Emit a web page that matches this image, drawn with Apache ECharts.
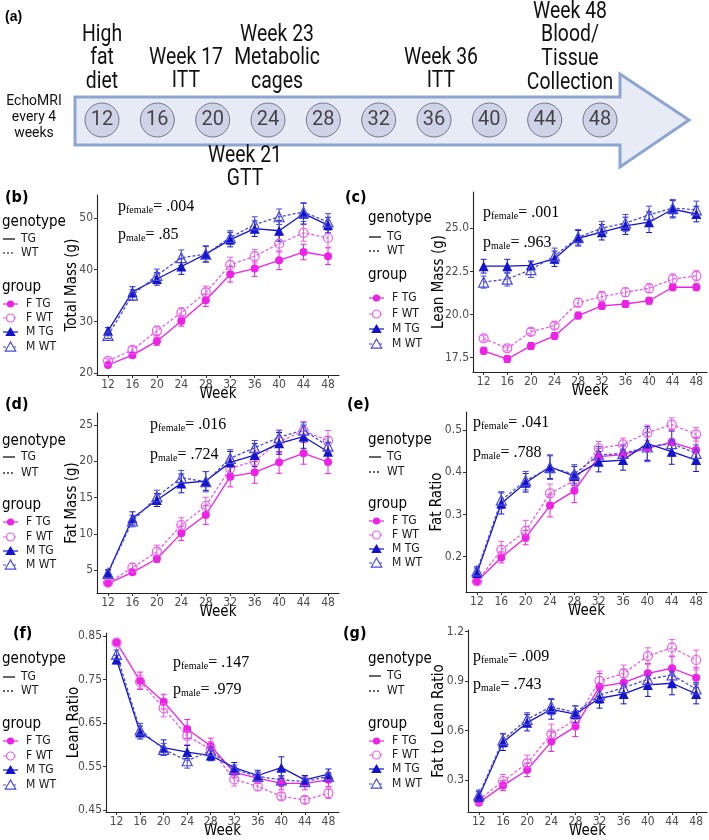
<!DOCTYPE html>
<html><head><meta charset="utf-8">
<script src="https://cdn.jsdelivr.net/npm/echarts@6/dist/echarts.min.js"></script>
<style>html,body{margin:0;padding:0;background:#fff}#c{width:709px;height:840px}</style>
</head><body><div id="c"></div>
<script>
// ---------------- DATA ----------------
const weeks = [12,16,20,24,28,32,36,40,44,48];
const groupNames = ['F TG','F WT','M TG','M WT'];
const genotypeNames = ['TG','WT'];

// (b) Total Mass (g)
const totalFTG = [21.6,23.5,26.2,30.1,34.1,39.1,40.2,41.8,43.4,42.6];
const totalFWT = [22.4,24.5,28.2,31.7,35.6,40.9,42.6,45.0,47.1,46.1];
const totalMTG = [28.2,35.7,38.2,40.6,43.0,45.8,47.9,47.5,50.8,48.6];
const totalMWT = [27.3,35.1,38.9,42.3,43.0,46.2,48.7,50.2,51.1,49.2];
const totalFTGse = [0.4,0.5,0.8,1.0,1.2,1.5,1.5,1.8,1.5,1.6];
const totalFWTse = [0.4,0.6,0.9,0.9,1.2,1.5,1.3,1.6,1.6,1.8];
const totalMTGse = [0.6,1.0,1.2,1.5,1.5,1.4,1.5,2.0,2.0,1.5];
const totalMWTse = [0.6,1.0,1.2,1.5,1.6,1.3,1.5,1.5,1.8,1.6];
const totalTicks = [20,30,40,50];

// (c) Lean Mass (g)
const leanFTG = [17.9,17.42,18.18,18.76,19.94,20.5,20.61,20.8,21.58,21.58];
const leanFWT = [18.62,18.04,19.0,19.36,20.69,21.04,21.29,21.52,22.05,22.24];
const leanMTG = [22.8,22.8,22.85,23.23,24.42,24.77,25.14,25.35,26.1,25.82];
const leanMWT = [21.88,22.05,22.6,23.4,24.48,25.0,25.3,25.78,26.17,26.07];
const leanFTGse = [0.2,0.2,0.2,0.2,0.2,0.2,0.2,0.2,0.2,0.2];
const leanFWTse = [0.15,0.15,0.2,0.2,0.25,0.3,0.25,0.25,0.3,0.3];
const leanMTGse = [0.4,0.4,0.25,0.45,0.45,0.45,0.5,0.6,0.5,0.45];
const leanMWTse = [0.35,0.4,0.45,0.45,0.45,0.4,0.5,0.5,0.5,0.5];
const leanTicks = [17.5,20,22.5,25];

// (d) Fat Mass (g)
const fatFTG = [3.16,4.68,6.56,10.06,12.59,17.87,18.47,19.85,21.1,19.9];
const fatFWT = [3.25,5.32,7.53,11.2,13.83,19.02,20.03,22.7,24.2,22.84];
const fatMTG = [4.63,12.13,14.66,16.95,17.28,19.85,20.86,22.47,23.39,21.32];
const fatMWT = [4.54,11.76,15.11,17.74,17.18,20.4,21.87,23.3,24.31,22.1];
const fatFTGse = [0.2,0.3,0.5,1.0,1.3,1.4,1.5,1.5,1.5,1.6];
const fatFWTse = [0.2,0.6,0.9,1.0,1.2,1.3,1.4,1.5,1.3,1.4];
const fatMTGse = [0.4,0.9,0.9,1.3,1.3,1.5,1.6,1.5,1.6,1.3];
const fatMWTse = [0.4,0.8,0.9,1.0,1.4,1.2,1.0,1.0,1.0,1.3];
const fatTicks = [5,10,15,20,25];

// (e) Fat Ratio
const fatRatioFTG = [0.141,0.198,0.245,0.321,0.356,0.437,0.442,0.457,0.471,0.453];
const fatRatioFWT = [0.141,0.216,0.261,0.35,0.38,0.457,0.466,0.494,0.513,0.49];
const fatRatioMTG = [0.161,0.326,0.375,0.413,0.391,0.425,0.429,0.468,0.449,0.429];
const fatRatioMWT = [0.166,0.334,0.38,0.411,0.396,0.441,0.445,0.46,0.468,0.445];
const fatRatioFTGse = [0.005,0.013,0.017,0.027,0.028,0.02,0.02,0.028,0.03,0.03];
const fatRatioFWTse = [0.005,0.02,0.025,0.022,0.02,0.016,0.015,0.018,0.016,0.016];
const fatRatioMTGse = [0.012,0.025,0.022,0.028,0.023,0.024,0.024,0.04,0.03,0.027];
const fatRatioMWTse = [0.01,0.02,0.022,0.028,0.022,0.02,0.02,0.035,0.03,0.02];
const fatRatioTicks = [0.2,0.3,0.4,0.5];

// (f) Lean Ratio
const leanRatioFTG = [0.835,0.747,0.699,0.636,0.597,0.536,0.523,0.511,0.511,0.519];
const leanRatioFWT = [0.835,0.745,0.684,0.62,0.589,0.52,0.504,0.481,0.473,0.488];
const leanRatioMTG = [0.796,0.628,0.593,0.583,0.575,0.547,0.529,0.547,0.519,0.532];
const leanRatioMWT = [0.808,0.634,0.589,0.563,0.586,0.543,0.527,0.519,0.515,0.527];
const leanRatioFTGse = [0.004,0.02,0.017,0.022,0.018,0.012,0.012,0.015,0.015,0.015];
const leanRatioFWTse = [0.004,0.015,0.02,0.02,0.018,0.015,0.01,0.008,0.008,0.012];
const leanRatioMTGse = [0.01,0.015,0.018,0.015,0.012,0.012,0.012,0.025,0.01,0.012];
const leanRatioMWTse = [0.01,0.015,0.014,0.017,0.012,0.01,0.01,0.01,0.008,0.008];
const leanRatioTicks = [0.45,0.55,0.65,0.75,0.85];

// (g) Fat to Lean Ratio
const ftlFTG = [0.162,0.266,0.361,0.533,0.624,0.866,0.891,0.947,0.978,0.921];
const ftlFWT = [0.179,0.294,0.401,0.579,0.664,0.901,0.947,1.052,1.103,1.028];
const ftlMTG = [0.199,0.529,0.648,0.729,0.70,0.796,0.822,0.877,0.887,0.822];
const ftlMWT = [0.209,0.543,0.668,0.745,0.709,0.816,0.86,0.911,0.937,0.852];
const ftlFTGse = [0.015,0.03,0.04,0.06,0.06,0.08,0.08,0.06,0.07,0.06];
const ftlFWTse = [0.015,0.04,0.05,0.06,0.05,0.06,0.05,0.05,0.05,0.06];
const ftlMTGse = [0.03,0.05,0.05,0.06,0.05,0.06,0.06,0.07,0.07,0.06];
const ftlMWTse = [0.03,0.04,0.04,0.05,0.04,0.05,0.04,0.05,0.05,0.04];
const ftlTicks = [0.3,0.6,0.9,1.2];

const pFemale = ['.004','.001','.016','.041','.147','.009'];
const pMale = ['.85','.963','.724','.788','.979','.743'];

// timeline (a)
const timelineWeeks = [12,16,20,24,28,32,36,40,44,48];
const timelineNotes = [['High','fat','diet'],['Week 17','ITT'],['Week 23','Metabolic','cages'],['Week 36','ITT'],['Week 48','Blood/','Tissue','Collection'],['Week 21','GTT']];
const echoNote = ['EchoMRI','every 4','weeks'];

// ---------------- STYLE / LAYOUT ----------------
const SANS = "'Liberation Sans Narrow','DejaVu Sans Condensed','Liberation Sans',Arial,sans-serif";
const SERIF = "'Liberation Serif','Times New Roman',serif";
const ROBOTO = "Roboto,'Noto Sans',sans-serif";
const groupStyles = [
  {color:'#EE22E6', symbol:'circle',   size:8,  filled:true,  dash:'solid'},
  {color:'#EA5CEA', symbol:'circle',   size:9,  filled:false, dash:[3,2]},
  {color:'#1414CC', symbol:'triangle', size:10, filled:true,  dash:'solid'},
  {color:'#4848DA', symbol:'triangle', size:10, filled:false, dash:[3,2]}
];

const panels = [
  {label:'(b)', yName:'Total Mass (g)', vals:[totalFTG,totalFWT,totalMTG,totalMWT], se:[totalFTGse,totalFWTse,totalMTGse,totalMWTse], ticks:totalTicks, dec:0,
   grid:{left:97,top:195,width:242,height:180}, yr:[19.67,54.4], yGap:17, lab:[5,198], p:[118,207,235], leg:[2,[222,239,253,287,304,318,332,347]]},
  {label:'(c)', yName:'Lean Mass (g)', vals:[leanFTG,leanFWT,leanMTG,leanMWT], se:[leanFTGse,leanFWTse,leanMTGse,leanMWTse], ticks:leanTicks, dec:1,
   grid:{left:473,top:192,width:234,height:180}, yr:[16.67,27.1], yGap:26, lab:[345,198], p:[483,213,243], leg:[368,[218,237,251,275,298,314,329,344]]},
  {label:'(d)', yName:'Fat Mass (g)', vals:[fatFTG,fatFWT,fatMTG,fatMWT], se:[fatFTGse,fatFWTse,fatMTGse,fatMWTse], ticks:fatTicks, dec:0,
   grid:{left:97,top:413,width:242,height:180}, yr:[1.83,26.66], yGap:17, lab:[5,405], p:[150,425,455], leg:[2,[441,457,473,505,522,537,551,565]]},
  {label:'(e)', yName:'Fat Ratio', vals:[fatRatioFTG,fatRatioFWT,fatRatioMTG,fatRatioMWT], se:[fatRatioFTGse,fatRatioFWTse,fatRatioMTGse,fatRatioMWTse], ticks:fatRatioTicks, dec:1,
   grid:{left:466,top:412,width:241,height:180}, yr:[0.116,0.543], yGap:21, lab:[347,405], p:[473,423,453], leg:[368,[440,457,472,504,521,535,549,563]]},
  {label:'(f)', yName:'Lean Ratio', vals:[leanRatioFTG,leanRatioFWT,leanRatioMTG,leanRatioMWT], se:[leanRatioFTGse,leanRatioFWTse,leanRatioMTGse,leanRatioMWTse], ticks:leanRatioTicks, dec:2,
   grid:{left:106,top:633,width:233,height:179}, yr:[0.445,0.857], yGap:24, lab:[13,634], p:[173,663,690], leg:[2,[659,677,691,724,741,756,770,785]]},
  {label:'(g)', yName:'Fat to Lean Ratio', vals:[ftlFTG,ftlFWT,ftlMTG,ftlMWT], se:[ftlFTGse,ftlFWTse,ftlMTGse,ftlMWTse], ticks:ftlTicks, dec:1,
   grid:{left:468,top:630,width:239,height:182}, yr:[0.106,1.21], yGap:21, lab:[343,634], p:[473,657,685], leg:[368,[659,676,691,724,741,755,769,784]]}
];

const grids = [], xAxes = [], yAxes = [], series = [], graphics = [];

function T(x, y, text, size, extra, tf) {
  return Object.assign({type:'text', x:x, y:y, silent:true, z:20,
    style:Object.assign({text:text, fontFamily:SANS, fontSize:size, fill:'#000', textAlign:'left', textVerticalAlign:'middle'}, extra||{})}, tf||{});
}
function tri(cx, cy, s) {
  return [[cx, cy - s*0.55],[cx - s*0.58, cy + s*0.45],[cx + s*0.58, cy + s*0.45]];
}

panels.forEach((P, i) => {
  grids.push(Object.assign({outerBoundsMode:'none', containLabel:false}, P.grid));
  xAxes.push({type:'value', gridIndex:i, min:10.2, max:49.8,
    name:'Week', nameLocation:'middle', nameGap:12, nameMoveOverlap:false,
    nameTextStyle:{fontFamily:SANS, fontSize:15, color:'#000'},
    axisLine:{show:true, onZero:false, lineStyle:{color:'#222', width:1.1}},
    axisTick:{show:true, length:3, customValues:weeks, lineStyle:{color:'#333'}},
    axisLabel:{customValues:weeks, margin:4, fontFamily:SANS, fontSize:12, color:'#4D4D4D'},
    splitLine:{show:false}});
  yAxes.push({type:'value', gridIndex:i, min:P.yr[0], max:P.yr[1],
    name:P.yName, nameLocation:'middle', nameGap:P.yGap, nameMoveOverlap:false,
    nameTextStyle:{fontFamily:SANS, fontSize:15, color:'#000'},
    axisLine:{show:true, onZero:false, lineStyle:{color:'#222', width:1.1}},
    axisTick:{show:true, length:3, customValues:P.ticks, lineStyle:{color:'#333'}},
    axisLabel:{customValues:P.ticks, margin:4, fontFamily:SANS, fontSize:12, color:'#4D4D4D',
      formatter:(v)=>Number(v).toFixed(P.dec)},
    splitLine:{show:false}});

  P.vals.forEach((vals, g) => {
    const st = groupStyles[g];
    const se = P.se[g];
    series.push({type:'custom', xAxisIndex:i, yAxisIndex:i, z:2, silent:true, animation:false,
      data: weeks.map((w,k)=>[w, vals[k]-se[k], vals[k]+se[k]]),
      encode:{x:0, y:[1,2]},
      renderItem:(params, api) => {
        const x = api.value(0);
        const a = api.coord([x, api.value(1)]);
        const b = api.coord([x, api.value(2)]);
        const w = 3;
        const ls = {stroke:st.color, lineWidth:1};
        return {type:'group', children:[
          {type:'line', shape:{x1:a[0], y1:a[1], x2:b[0], y2:b[1]}, style:ls},
          {type:'line', shape:{x1:a[0]-w, y1:a[1], x2:a[0]+w, y2:a[1]}, style:ls},
          {type:'line', shape:{x1:b[0]-w, y1:b[1], x2:b[0]+w, y2:b[1]}, style:ls}
        ]};
      }});
    series.push({type:'line', name:groupNames[g], xAxisIndex:i, yAxisIndex:i, z:3, silent:true, animation:false,
      data: weeks.map((w,k)=>[w, vals[k]]),
      symbol:st.symbol, symbolSize:st.size, showAllSymbol:true,
      lineStyle:{color:st.color, width:1.3, type:st.dash},
      itemStyle: st.filled ? {color:st.color} : {color:'rgba(255,255,255,0)', borderColor:st.color, borderWidth:1.2},
      emphasis:{disabled:true}});
  });

  graphics.push(T(P.lab[0], P.lab[1], P.label, 16, {fontWeight:'bold'}));
  [['female', pFemale[i], P.p[1]], ['male', pMale[i], P.p[2]]].forEach(([sub, val, y]) => {
    graphics.push({type:'text', x:P.p[0], y:y, silent:true, z:20,
      style:{text:'{p|p}{s|' + sub + '}{e|= ' + val + '}', textVerticalAlign:'middle', textAlign:'left',
        rich:{p:{fontFamily:SERIF, fontSize:16, fill:'#000'},
              s:{fontFamily:SERIF, fontSize:10, fill:'#000', verticalAlign:'bottom'},
              e:{fontFamily:SERIF, fontSize:16, fill:'#000'}}}});
  });
  const x0 = P.leg[0], ys = P.leg[1];
  graphics.push(T(x0, ys[0], 'genotype', 15));
  genotypeNames.forEach((nm, k) => {
    graphics.push({type:'line', silent:true, z:20, shape:{x1:x0+1, y1:ys[1+k], x2:x0+13, y2:ys[1+k]},
      style:{stroke:'#000', lineWidth:1.2, lineDash: k===0 ? null : [2,2]}});
    graphics.push(T(x0+19, ys[1+k], nm, 12, {fill:'#1a1a1a'}));
  });
  graphics.push(T(x0, ys[3], 'group', 15));
  groupNames.forEach((nm, g) => {
    const st = groupStyles[g], y = ys[4+g], cx = x0+8.5;
    graphics.push({type:'line', silent:true, z:20, shape:{x1:x0+1, y1:y, x2:x0+16, y2:y},
      style:{stroke:st.color, lineWidth:1.2, lineDash: st.dash==='solid' ? null : [3,2]}});
    const sty = st.filled ? {fill:st.color} : {fill:'#fff', stroke:st.color, lineWidth:1.2};
    if (st.symbol === 'circle') graphics.push({type:'circle', silent:true, z:21, shape:{cx:cx, cy:y, r:st.filled?3.6:4}, style:sty});
    else graphics.push({type:'polygon', silent:true, z:21, shape:{points:tri(cx, y, 9)}, style:sty});
    graphics.push(T(x0+24, y, nm, 12, {fill:'#1a1a1a'}));
  });
});

// ---- panel (a): timeline ----
const ti = panels.length;
grids.push({left:102, width:498, top:100, height:40, outerBoundsMode:'none'});
xAxes.push({type:'value', gridIndex:ti, min:12, max:48, show:false});
yAxes.push({type:'value', gridIndex:ti, min:-1, max:1, show:false});
series.push({type:'scatter', xAxisIndex:ti, yAxisIndex:ti, z:10, silent:true, animation:false,
  data: timelineWeeks.map(w=>[w,0]), symbol:'circle', symbolSize:34,
  itemStyle:{color:'#c9cde3', borderColor:'#5d5f73', borderWidth:1},
  label:{show:true, position:'inside', formatter:(p)=>String(p.value[0]), fontFamily:ROBOTO, fontSize:20, color:'#1e1e1e'}});

graphics.push(T(5, 17, '(a)', 14, {fontWeight:'bold', fontFamily:"'Liberation Sans',Arial,sans-serif"}));
graphics.push({type:'polygon', silent:true, z:1,
  shape:{points:[[75,97],[620,97],[620,74],[689,120],[620,167],[620,145],[75,145]]},
  style:{fill:'#e6ebf6', stroke:'#8ea5d0', lineWidth:3, lineJoin:'miter'}});
const notePos = [[102,35],[186,58],[277,35],[441,58],[570,12],[245,156]];
timelineNotes.forEach((lines, n) => {
  lines.forEach((ln, k) => {
    graphics.push(T(notePos[n][0], notePos[n][1] + k*23.6, ln, 20, {fontFamily:ROBOTO, textAlign:'center', fill:'#111'}, {scaleX:0.97, scaleY:1.15}));
  });
});
echoNote.forEach((ln, k) => {
  graphics.push(T(34, 101 + k*16, ln, 14, {fontFamily:ROBOTO, textAlign:'center', fill:'#111'}, {scaleY:1.1}));
});

const chart = echarts.init(document.getElementById('c'), null, {renderer:'canvas'});
chart.setOption({
  backgroundColor:'#ffffff',
  animation:false,
  grid:grids, xAxis:xAxes, yAxis:yAxes, series:series,
  graphic:{elements:graphics}
});
</script></body></html>
